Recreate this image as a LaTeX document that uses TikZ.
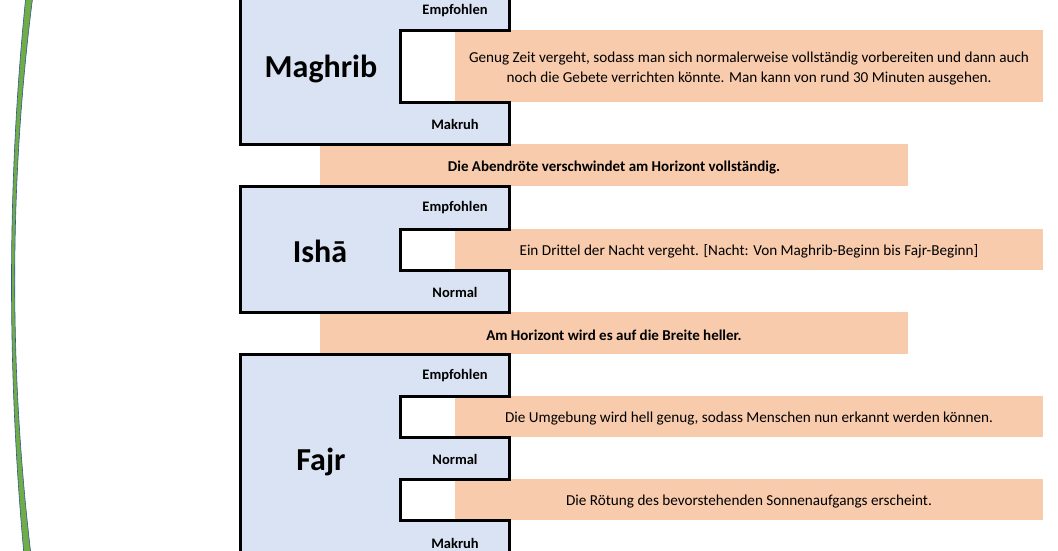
\documentclass[tikz,border=0pt]{standalone}
\usepackage{fontspec}
\setmainfont{Carlito}
\usetikzlibrary{positioning}
\definecolor{prayblue}{RGB}{218,227,243}
\definecolor{prayorange}{RGB}{248,203,173}
\definecolor{arcgreen}{RGB}{112,173,71}
\definecolor{arcblue}{RGB}{47,85,151}
\begin{document}
\begin{tikzpicture}[x=1pt, y=-1pt,
        prayer/.style={fill=prayblue, draw=black, line width=3pt, line join=miter},
        title/.style={font=\fontsize{32}{36}\selectfont\bfseries},
        level/.style={font=\fontsize{14.5}{17}\selectfont\bfseries},
        note/.style={fill=prayorange, minimum width=588pt, inner sep=0pt, align=center,
          font=\fontsize{15.2}{20}\selectfont},
        sign/.style={note, font=\fontsize{15}{20}\selectfont\bfseries}]
      \useasboundingbox (0,0) rectangle (1058,550);
      \clip (0,0) rectangle (1058,550);
      % orange notes (behind the boxes)
      \node[note, minimum height=72pt, text height=35pt] (maghribnote) at (749,66)
        {Genug Zeit vergeht, sodass man sich normalerweise vollständig vorbereiten und dann auch\\
         noch die Gebete verrichten könnte. Man kann von rund 30 Minuten ausgehen.};
      \node[sign, minimum height=42pt, text height=15pt] (abendnote) at (614,165) {Die Abendröte verschwindet am Horizont vollständig.};
      \node[note, minimum height=41pt, text height=15pt] (ishanote) at (749,249.5)
        {Ein Drittel der Nacht vergeht. [Nacht: Von Maghrib-Beginn bis Fajr-Beginn]};
      \node[sign, minimum height=42pt, text height=15pt] (horizontnote) at (614,333) {Am Horizont wird es auf die Breite heller.};
      \node[note, minimum height=41pt, text height=15pt] (fajrnotea) at (749,416.5)
        {Die Umgebung wird hell genug, sodass Menschen nun erkannt werden können.};
      \node[note, minimum height=41pt, text height=15pt] (fajrnoteb) at (749,499.5)
        {Die Rötung des bevorstehenden Sonnenaufgangs erscheint.};
      % prayer boxes with notches
      \draw[prayer] (240,-10) -- (509,-10) -- (509,30) -- (400,30) -- (400,102)
        -- (509,102) -- (509,144) -- (240,144) -- cycle;
      \draw[prayer] (240,186) -- (509,186) -- (509,229) -- (400,229) -- (400,270)
        -- (509,270) -- (509,312) -- (240,312) -- cycle;
      \draw[prayer] (240,354) -- (509,354) -- (509,396) -- (400,396) -- (400,437)
        -- (509,437) -- (509,479) -- (400,479) -- (400,520) -- (509,520)
        -- (509,570) -- (240,570) -- cycle;
      \node[title] (maghrib) at (321,69) {Maghrib};
      \node[title] (isha) at (320,251) {Ishā};
      \node[title] (fajr) at (321,462) {Fajr};
      \node[level] (maghribemp) at (455,11) {Empfohlen};
      \node[level] (maghribmak) at (455,124) {Makruh};
      \node[level] (ishaemp) at (455,208) {Empfohlen};
      \node[level] (ishanor) at (455,292) {Normal};
      \node[level] (fajremp) at (455,376) {Empfohlen};
      \node[level] (fajrnor) at (455,459) {Normal};
      \node[level] (fajrmak) at (455,543) {Makruh};
      % arc on the left
      \fill[arcgreen, draw=arcblue, line width=0.6pt] (26,-5) .. controls (7,180) and (7,370) .. (24,555)
        -- (31,555) .. controls (9,370) and (9,180) .. (33,-5) -- cycle;
\end{tikzpicture}
\end{document}
